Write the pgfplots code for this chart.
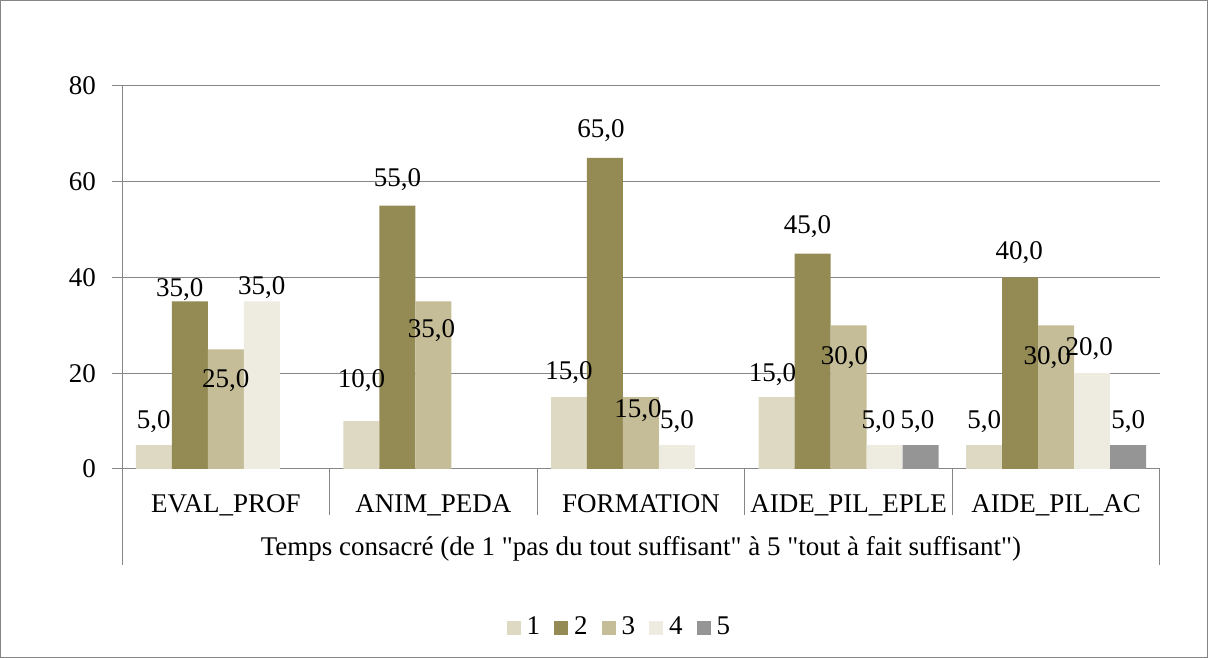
\documentclass[border=0pt]{standalone}
\usepackage{pgfplots}
\pgfplotsset{compat=1.18}
\usepackage{pgfplotstable}
\usepackage{fontspec}
\setmainfont{Liberation Serif}[Ligatures=TeXOff]
\definecolor{cA}{HTML}{DDD9C3}
\definecolor{cB}{HTML}{948A54}
\definecolor{cC}{HTML}{C4BD97}
\definecolor{cD}{HTML}{EEECE1}
\definecolor{cE}{HTML}{959595}
\definecolor{gridc}{HTML}{868686}
% columns: category index, value, label x offset, label y offset (pt)
\pgfplotstableread{
x y dx dy
0 5 0 23
1 10 0 41
2 15 0 25
3 15 -4 23
4 5 0 23
}\sA
\pgfplotstableread{
x y dx dy
0 35 -10 12
1 55 0 26
2 65 -4 27
3 45 -5 27
4 40 -1 25
}\sB
\pgfplotstableread{
x y dx dy
0 25 0 -31
1 35 -2 -29
2 15 -3 -13
3 30 -4 -32
4 30 -9 -32
}\sC
\pgfplotstableread{
x y dx dy
0 35 0 14
2 5 0 23
3 5 -6 23
4 20 -3 25
}\sD
\pgfplotstableread{
x y dx dy
3 5 -3 23
4 5 0 23
}\sE
\begin{document}
\fontsize{27}{32}\selectfont
\begin{tikzpicture}
\useasboundingbox (0pt,0pt) rectangle (1208pt,658pt);
\draw[gridc, line width=1pt] (0.5pt,0.5pt) rectangle (1207.5pt,657.5pt);
\begin{axis}[
  at={(122pt,189pt)}, anchor=south west,
  scale only axis, width=1038pt, height=383pt,
  ymin=0, ymax=80, ytick={0,20,40,60,80},
  xmin=-0.5, xmax=4.5,
  xtick={0,1,2,3,4},
  xticklabels={EVAL\_PROF, ANIM\_PEDA, FORMATION, AIDE\_PIL\_EPLE, AIDE\_PIL\_AC},
  xtick style={draw=none},
  xticklabel style={anchor=base, yshift=-34pt},
  yticklabel style={xshift=-7pt},
  axis x line*=bottom, axis y line*=left,
  axis line style={gridc, line width=1pt, -},
  ytick style={gridc, line width=1pt},
  tick align=outside, major tick length=10pt,
  ymajorgrids, grid style={gridc, line width=1pt},
  ybar=0pt, bar width=0.1734,
  clip=false,
  /pgf/number format/assume math mode=true,
  xlabel={Temps consacré (de 1 "pas du tout suffisant" à 5 "tout à fait suffisant")},
  xlabel style={at={(axis description cs:0.5,-0.208)}, anchor=center},
  legend columns=5,
  legend style={at={(axis description cs:0.481,-0.415)}, anchor=center, draw=none,
    nodes={inner xsep=6pt},
    /tikz/every even column/.append style={column sep=8pt}},
  legend image code/.code={\fill[#1] (0pt,-7pt) rectangle (14pt,7pt);},
  nodes near coords={\pgfmathprintnumber[fixed,fixed zerofill,precision=1,use comma]{\pgfplotspointmeta}},
  visualization depends on={\thisrow{dx} \as \labdx},
  visualization depends on={\thisrow{dy} \as \labdy},
  every node near coord/.append style={anchor=center, xshift=\labdx pt, yshift=\labdy pt, text=black, inner sep=0pt},
]
\addplot[fill=cA, draw=none] table[x=x,y=y] {\sA}; \addlegendentry{1}
\addplot[fill=cB, draw=none] table[x=x,y=y] {\sB}; \addlegendentry{2}
\addplot[fill=cC, draw=none] table[x=x,y=y] {\sC}; \addlegendentry{3}
\addplot[fill=cD, draw=none] table[x=x,y=y] {\sD}; \addlegendentry{4}
\addplot[fill=cE, draw=none] table[x=x,y=y] {\sE}; \addlegendentry{5}
\draw[gridc, line width=1pt] (axis cs:0.5,0) -- ++(0pt,-46pt);
\draw[gridc, line width=1pt] (axis cs:1.5,0) -- ++(0pt,-46pt);
\draw[gridc, line width=1pt] (axis cs:2.5,0) -- ++(0pt,-46pt);
\draw[gridc, line width=1pt] (axis cs:3.5,0) -- ++(0pt,-46pt);
\draw[gridc, line width=1pt] (axis cs:-0.5,0) -- ++(0pt,-96pt);
\draw[gridc, line width=1pt] (axis cs:4.5,0) -- ++(0pt,-96pt);
\end{axis}
\end{tikzpicture}
\end{document}
